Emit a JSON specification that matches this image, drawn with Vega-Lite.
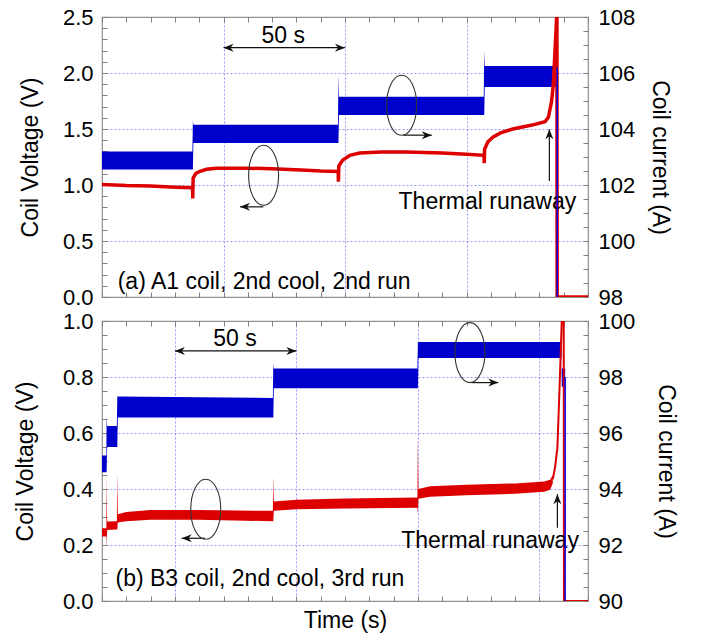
{
  "$schema": "https://vega.github.io/schema/vega-lite/v6.json",
  "padding": {"left": 13, "top": 5, "right": 5, "bottom": 5},
  "background": "white",
  "spacing": 24,
  "bounds": "flush",
  "datasets": {
    "topI": [
      {"t": 0, "lo": 102.55, "hi": 103.2}, {"t": 37.2, "lo": 102.55, "hi": 103.2},
      {"t": 37.4, "lo": 102.55, "hi": 104.3}, {"t": 37.6, "lo": 103.5, "hi": 104.15},
      {"t": 97.1, "lo": 103.5, "hi": 104.15}, {"t": 97.3, "lo": 103.5, "hi": 105.95},
      {"t": 97.5, "lo": 104.5, "hi": 105.15}, {"t": 157.1, "lo": 104.5, "hi": 105.15},
      {"t": 157.3, "lo": 104.5, "hi": 106.8}, {"t": 157.5, "lo": 105.5, "hi": 106.25},
      {"t": 187.2, "lo": 105.5, "hi": 106.25}
    ],
    "topDrop": [{"t": 187.35, "lo": 98, "hi": 106.2}],
    "topV": [
      {"t": 0, "v": 1.005}, {"t": 10, "v": 0.995}, {"t": 20, "v": 0.99}, {"t": 30, "v": 0.98},
      {"t": 37.3, "v": 0.975}, {"t": 37.35, "v": 0.88}, {"t": 37.5, "v": 1.06}, {"t": 38.5, "v": 1.1},
      {"t": 40, "v": 1.12}, {"t": 43, "v": 1.14}, {"t": 47, "v": 1.15}, {"t": 60, "v": 1.15},
      {"t": 70, "v": 1.145}, {"t": 82, "v": 1.135}, {"t": 90, "v": 1.125}, {"t": 97.2, "v": 1.12},
      {"t": 97.3, "v": 1.03}, {"t": 97.45, "v": 1.17}, {"t": 99, "v": 1.22}, {"t": 102, "v": 1.265},
      {"t": 106, "v": 1.285}, {"t": 115, "v": 1.295}, {"t": 125, "v": 1.295}, {"t": 140, "v": 1.285},
      {"t": 150, "v": 1.275}, {"t": 157.2, "v": 1.265}, {"t": 157.3, "v": 1.195}, {"t": 157.45, "v": 1.32},
      {"t": 158.8, "v": 1.385}, {"t": 161, "v": 1.43}, {"t": 164, "v": 1.465}, {"t": 169, "v": 1.5},
      {"t": 177, "v": 1.535}, {"t": 182.3, "v": 1.565}, {"t": 183.7, "v": 1.605}, {"t": 185, "v": 1.745},
      {"t": 185.7, "v": 1.89}, {"t": 186.4, "v": 2.19}, {"t": 187.1, "v": 2.5}, {"t": 187.2, "v": 2.8},
      {"t": 187.3, "v": 0}, {"t": 200, "v": 0}
    ],
    "topRules": [
      {"t1": 50, "t2": 100, "v1": 2.226, "v2": 2.226},
      {"t1": 56.8, "t2": 66.4, "v1": 0.805, "v2": 0.805},
      {"t1": 124, "t2": 135.7, "v1": 1.445, "v2": 1.445},
      {"t1": 184.1, "t2": 184.1, "v1": 1.036, "v2": 1.497}
    ],
    "topHeads": [
      {"t": 50, "v": 2.226, "dir": "left"}, {"t": 100, "v": 2.226, "dir": "right"},
      {"t": 56.8, "v": 0.805, "dir": "left"}, {"t": 135.7, "v": 1.445, "dir": "right"},
      {"t": 184.1, "v": 1.497, "dir": "up"}
    ],
    "topEll": [{"t": 66.5, "v": 1.087}, {"t": 123.3, "v": 1.7125}],
    "topText": [
      {"t": 74.6, "v": 2.27, "label": "50 s"},
      {"t": 158.6, "v": 0.783, "label": "Thermal runaway"},
      {"t": 66.7, "v": 0.075, "label": "(a) A1 coil, 2nd cool, 2nd run"}
    ],
    "botI": [
      {"t": 0, "lo": 94.6, "hi": 95.2}, {"t": 1.8, "lo": 94.6, "hi": 95.2},
      {"t": 1.9, "lo": 94.6, "hi": 96.6}, {"t": 2.1, "lo": 95.5, "hi": 96.25},
      {"t": 6.1, "lo": 95.5, "hi": 96.25}, {"t": 6.3, "lo": 95.5, "hi": 97.3},
      {"t": 6.5, "lo": 96.55, "hi": 97.3}, {"t": 70.3, "lo": 96.55, "hi": 97.25},
      {"t": 70.5, "lo": 96.55, "hi": 98.5}, {"t": 70.7, "lo": 97.6, "hi": 98.3},
      {"t": 129.8, "lo": 97.6, "hi": 98.3}, {"t": 130, "lo": 97.6, "hi": 99.25},
      {"t": 130.2, "lo": 98.68, "hi": 99.25}, {"t": 189.1, "lo": 98.68, "hi": 99.25},
      {"t": 189.2, "lo": 97.65, "hi": 98.3}, {"t": 190.6, "lo": 97.65, "hi": 98.3}
    ],
    "botDrop": [{"t": 190.6, "lo": 90, "hi": 98}],
    "botV": [
      {"t": 0, "lo": 0.23, "hi": 0.26}, {"t": 1.8, "lo": 0.23, "hi": 0.26},
      {"t": 1.9, "lo": 0.19, "hi": 0.45}, {"t": 2.1, "lo": 0.254, "hi": 0.284},
      {"t": 6.1, "lo": 0.255, "hi": 0.285}, {"t": 6.3, "lo": 0.255, "hi": 0.457},
      {"t": 6.5, "lo": 0.28, "hi": 0.31}, {"t": 10, "lo": 0.285, "hi": 0.318},
      {"t": 20, "lo": 0.29, "hi": 0.325}, {"t": 40, "lo": 0.29, "hi": 0.325},
      {"t": 70.3, "lo": 0.285, "hi": 0.322}, {"t": 70.5, "lo": 0.285, "hi": 0.445},
      {"t": 70.7, "lo": 0.322, "hi": 0.355}, {"t": 80, "lo": 0.328, "hi": 0.362},
      {"t": 100, "lo": 0.33, "hi": 0.366}, {"t": 129.8, "lo": 0.333, "hi": 0.37},
      {"t": 130, "lo": 0.308, "hi": 0.588}, {"t": 130.2, "lo": 0.365, "hi": 0.4},
      {"t": 135, "lo": 0.372, "hi": 0.41}, {"t": 150, "lo": 0.378, "hi": 0.415},
      {"t": 170, "lo": 0.383, "hi": 0.42}, {"t": 182, "lo": 0.39, "hi": 0.427},
      {"t": 184.4, "lo": 0.397, "hi": 0.433}, {"t": 185.5, "lo": 0.42, "hi": 0.45}
    ],
    "botVline": [
      {"t": 185.5, "v": 0.435}, {"t": 186.4, "v": 0.475}, {"t": 187.4, "v": 0.547},
      {"t": 188.1, "v": 0.714}, {"t": 188.8, "v": 0.893}, {"t": 189.2, "v": 1.0},
      {"t": 189.4, "v": 1.1}, {"t": 190.0, "v": 1.1}, {"t": 190.1, "v": 0}, {"t": 200, "v": 0}
    ],
    "botRules": [
      {"t1": 30, "t2": 80, "v1": 0.893, "v2": 0.893},
      {"t1": 32.8, "t2": 42.4, "v1": 0.224, "v2": 0.224},
      {"t1": 152.1, "t2": 163.1, "v1": 0.78, "v2": 0.78},
      {"t1": 187.4, "t2": 187.4, "v1": 0.262, "v2": 0.381}
    ],
    "botHeads": [
      {"t": 30, "v": 0.893, "dir": "left"}, {"t": 80, "v": 0.893, "dir": "right"},
      {"t": 32.8, "v": 0.224, "dir": "left"}, {"t": 163.1, "v": 0.78, "dir": "right"},
      {"t": 187.4, "v": 0.381, "dir": "up"}
    ],
    "botEll": [{"t": 42.7, "v": 0.3275}, {"t": 151.4, "v": 0.887}],
    "botText": [
      {"t": 54.7, "v": 0.911, "label": "50 s"},
      {"t": 159.7, "v": 0.19, "label": "Thermal runaway"},
      {"t": 65.0, "v": 0.054, "label": "(b) B3 coil, 2nd cool, 3rd run"}
    ]
  },
  "vconcat": [
    {
      "width": 486, "height": 280,
      "layer": [
        {
          "data": {"name": "topI"},
          "mark": {"type": "area", "color": "#0000cc", "clip": true},
          "encoding": {
            "x": {"field": "t", "type": "quantitative", "scale": {"domain": [0, 200], "nice": false},
              "axis": {"orient": "top", "values": [0,10,20,30,40,50,60,70,80,90,100,110,120,130,140,150,160,170,180,190,200], "labels": false, "title": null, "grid": false, "domain": false, "offset": -5, "tickSize": 5}},
            "y": {"field": "lo", "type": "quantitative", "scale": {"domain": [98, 108], "nice": false, "zero": false},
              "axis": {"orient": "right", "values": [98,98.5,99,99.5,100,100.5,101,101.5,102,102.5,103,103.5,104,104.5,105,105.5,106,106.5,107,107.5,108],
                "labelExpr": "abs(datum.value/2-round(datum.value/2))<0.001 ? format(datum.value,'d') : ''",
                "title": "Coil current (A)", "grid": false, "domain": false, "offset": -5, "tickSize": 5, "labelPadding": 10, "titlePadding": 13}},
            "y2": {"field": "hi"}
          }
        },
        {
          "data": {"name": "topV"},
          "mark": {"type": "line", "color": "#dd0000", "strokeWidth": 3.5, "clip": true},
          "encoding": {
            "x": {"field": "t", "type": "quantitative", "scale": {"domain": [0, 200], "nice": false},
              "axis": {"orient": "bottom", "values": [0,10,20,30,40,50,60,70,80,90,100,110,120,130,140,150,160,170,180,190,200], "labels": false, "title": null, "grid": true, "domain": false, "offset": -5, "tickSize": 5,
                "gridOpacity": {"condition": {"test": "datum.value % 50 == 0 && datum.value > 0 && datum.value < 200", "value": 1}, "value": 0}}},
            "y": {"field": "v", "type": "quantitative", "scale": {"domain": [0, 2.5], "nice": false},
              "axis": {"orient": "left", "values": [0,0.1,0.2,0.3,0.4,0.5,0.6,0.7,0.8,0.9,1,1.1,1.2,1.3,1.4,1.5,1.6,1.7,1.8,1.9,2,2.1,2.2,2.3,2.4,2.5],
                "labelExpr": "abs(datum.value*2-round(datum.value*2))<0.001 ? format(datum.value,'.1f') : ''",
                "title": "Coil Voltage (V)", "grid": true, "domain": false, "offset": -5, "tickSize": 5,
                "gridOpacity": {"condition": {"test": "abs(datum.value*2-round(datum.value*2))<0.001 && datum.value > 0.01 && datum.value < 2.49", "value": 1}, "value": 0},
                "labelPadding": 9, "titlePadding": 20}}
          }
        },
        {
          "data": {"name": "topRules"},
          "mark": {"type": "rule", "color": "#111111", "strokeWidth": 1.2},
          "encoding": {
            "x": {"field": "t1", "type": "quantitative", "scale": {"domain": [0, 200], "nice": false}, "axis": null},
            "x2": {"field": "t2"},
            "y": {"field": "v1", "type": "quantitative", "scale": {"domain": [0, 2.5], "nice": false}, "axis": null},
            "y2": {"field": "v2"}
          }
        },
        {
          "data": {"name": "topHeads"},
          "mark": {"type": "point", "filled": true, "size": 400, "color": "#111111", "opacity": 1},
          "encoding": {
            "x": {"field": "t", "type": "quantitative", "scale": {"domain": [0, 200], "nice": false}, "axis": null},
            "y": {"field": "v", "type": "quantitative", "scale": {"domain": [0, 2.5], "nice": false}, "axis": null},
            "shape": {"field": "dir", "type": "nominal", "legend": null,
              "scale": {"domain": ["left", "right", "up"], "range": ["M 0 0 L 1 -0.4 L 0.7 0 L 1 0.4 Z", "M 0 0 L -1 -0.4 L -0.7 0 L -1 0.4 Z", "M 0 0 L -0.4 1 L 0 0.7 L 0.4 1 Z"]}}
          }
        },
        {
          "data": {"name": "topEll"},
          "mark": {"type": "point", "filled": false, "size": 3600, "color": "#333333", "strokeWidth": 1.1, "opacity": 1,
            "shape": "M -0.5 0 A 0.5 1 0 1 1 0.5 0 A 0.5 1 0 1 1 -0.5 0 Z"},
          "encoding": {
            "x": {"field": "t", "type": "quantitative", "scale": {"domain": [0, 200], "nice": false}, "axis": null},
            "y": {"field": "v", "type": "quantitative", "scale": {"domain": [0, 2.5], "nice": false}, "axis": null}
          }
        },
        {
          "data": {"name": "topText"},
          "mark": {"type": "text", "fontSize": 23, "font": "Liberation Sans", "align": "center", "baseline": "alphabetic", "color": "#000000"},
          "encoding": {
            "x": {"field": "t", "type": "quantitative", "scale": {"domain": [0, 200], "nice": false}, "axis": null},
            "y": {"field": "v", "type": "quantitative", "scale": {"domain": [0, 2.5], "nice": false}, "axis": null},
            "text": {"field": "label"}
          }
        },
        {
          "data": {"name": "topDrop"},
          "mark": {"type": "rule", "color": "#0000ee", "strokeWidth": 1.5},
          "encoding": {
            "x": {"field": "t", "type": "quantitative", "scale": {"domain": [0, 200], "nice": false}, "axis": null},
            "y": {"field": "lo", "type": "quantitative", "scale": {"domain": [98, 108], "nice": false, "zero": false}, "axis": null},
            "y2": {"field": "hi"}
          }
        }
      ],
      "resolve": {"scale": {"y": "independent"}, "axis": {"x": "independent", "y": "independent"}}
    },
    {
      "width": 486, "height": 280,
      "layer": [
        {
          "data": {"name": "botI"},
          "mark": {"type": "area", "color": "#0000cc", "clip": true},
          "encoding": {
            "x": {"field": "t", "type": "quantitative", "scale": {"domain": [0, 200], "nice": false},
              "axis": {"orient": "top", "values": [0,10,20,30,40,50,60,70,80,90,100,110,120,130,140,150,160,170,180,190,200], "labels": false, "title": null, "grid": false, "domain": false, "offset": -5, "tickSize": 5}},
            "y": {"field": "lo", "type": "quantitative", "scale": {"domain": [90, 100], "nice": false, "zero": false},
              "axis": {"orient": "right", "values": [90,90.5,91,91.5,92,92.5,93,93.5,94,94.5,95,95.5,96,96.5,97,97.5,98,98.5,99,99.5,100],
                "labelExpr": "abs(datum.value/2-round(datum.value/2))<0.001 ? format(datum.value,'d') : ''",
                "title": "Coil current (A)", "grid": false, "domain": false, "offset": -5, "tickSize": 5, "labelPadding": 10, "titlePadding": 19}},
            "y2": {"field": "hi"}
          }
        },
        {
          "data": {"name": "botV"},
          "mark": {"type": "area", "color": "#dd0000", "clip": true},
          "encoding": {
            "x": {"field": "t", "type": "quantitative", "scale": {"domain": [0, 200], "nice": false},
              "axis": {"orient": "bottom", "values": [0,10,20,30,40,50,60,70,80,90,100,110,120,130,140,150,160,170,180,190,200], "labels": false, "title": "Time (s)", "titlePadding": 8, "grid": true, "domain": false, "offset": -5, "tickSize": 5,
                "gridOpacity": {"condition": {"test": "(datum.value - 30) % 50 == 0 && datum.value > 0 && datum.value < 200", "value": 1}, "value": 0}}},
            "y": {"field": "lo", "type": "quantitative", "scale": {"domain": [0, 1], "nice": false},
              "axis": {"orient": "left", "values": [0,0.05,0.1,0.15,0.2,0.25,0.3,0.35,0.4,0.45,0.5,0.55,0.6,0.65,0.7,0.75,0.8,0.85,0.9,0.95,1],
                "labelExpr": "abs(datum.value*5-round(datum.value*5))<0.001 ? format(datum.value,'.1f') : ''",
                "title": "Coil Voltage (V)", "grid": true, "domain": false, "offset": -5, "tickSize": 5,
                "gridOpacity": {"condition": {"test": "abs(datum.value*5-round(datum.value*5))<0.001 && datum.value > 0.01 && datum.value < 0.99", "value": 1}, "value": 0},
                "labelPadding": 9, "titlePadding": 25}},
            "y2": {"field": "hi"}
          }
        },
        {
          "data": {"name": "botVline"},
          "mark": {"type": "line", "color": "#dd0000", "strokeWidth": 2, "clip": true},
          "encoding": {
            "x": {"field": "t", "type": "quantitative", "scale": {"domain": [0, 200], "nice": false}, "axis": null},
            "y": {"field": "v", "type": "quantitative", "scale": {"domain": [0, 1], "nice": false}, "axis": null}
          }
        },
        {
          "data": {"name": "botRules"},
          "mark": {"type": "rule", "color": "#111111", "strokeWidth": 1.2},
          "encoding": {
            "x": {"field": "t1", "type": "quantitative", "scale": {"domain": [0, 200], "nice": false}, "axis": null},
            "x2": {"field": "t2"},
            "y": {"field": "v1", "type": "quantitative", "scale": {"domain": [0, 1], "nice": false}, "axis": null},
            "y2": {"field": "v2"}
          }
        },
        {
          "data": {"name": "botHeads"},
          "mark": {"type": "point", "filled": true, "size": 400, "color": "#111111", "opacity": 1},
          "encoding": {
            "x": {"field": "t", "type": "quantitative", "scale": {"domain": [0, 200], "nice": false}, "axis": null},
            "y": {"field": "v", "type": "quantitative", "scale": {"domain": [0, 1], "nice": false}, "axis": null},
            "shape": {"field": "dir", "type": "nominal", "legend": null,
              "scale": {"domain": ["left", "right", "up"], "range": ["M 0 0 L 1 -0.4 L 0.7 0 L 1 0.4 Z", "M 0 0 L -1 -0.4 L -0.7 0 L -1 0.4 Z", "M 0 0 L -0.4 1 L 0 0.7 L 0.4 1 Z"]}}
          }
        },
        {
          "data": {"name": "botEll"},
          "mark": {"type": "point", "filled": false, "size": 3600, "color": "#333333", "strokeWidth": 1.1, "opacity": 1,
            "shape": "M -0.5 0 A 0.5 1 0 1 1 0.5 0 A 0.5 1 0 1 1 -0.5 0 Z"},
          "encoding": {
            "x": {"field": "t", "type": "quantitative", "scale": {"domain": [0, 200], "nice": false}, "axis": null},
            "y": {"field": "v", "type": "quantitative", "scale": {"domain": [0, 1], "nice": false}, "axis": null}
          }
        },
        {
          "data": {"name": "botText"},
          "mark": {"type": "text", "fontSize": 23, "font": "Liberation Sans", "align": "center", "baseline": "alphabetic", "color": "#000000"},
          "encoding": {
            "x": {"field": "t", "type": "quantitative", "scale": {"domain": [0, 200], "nice": false}, "axis": null},
            "y": {"field": "v", "type": "quantitative", "scale": {"domain": [0, 1], "nice": false}, "axis": null},
            "text": {"field": "label"}
          }
        },
        {
          "data": {"name": "botDrop"},
          "mark": {"type": "rule", "color": "#0000ee", "strokeWidth": 1.5},
          "encoding": {
            "x": {"field": "t", "type": "quantitative", "scale": {"domain": [0, 200], "nice": false}, "axis": null},
            "y": {"field": "lo", "type": "quantitative", "scale": {"domain": [90, 100], "nice": false, "zero": false}, "axis": null},
            "y2": {"field": "hi"}
          }
        }
      ],
      "resolve": {"scale": {"y": "independent"}, "axis": {"x": "independent", "y": "independent"}}
    }
  ],
  "config": {
    "font": "Liberation Sans",
    "view": {"stroke": "#909090", "strokeWidth": 1.2},
    "axis": {
      "labelFont": "Liberation Sans", "labelFontSize": 22, "labelColor": "#000000",
      "titleFont": "Liberation Sans", "titleFontSize": 23, "titleFontWeight": "normal", "titleColor": "#000000",
      "tickColor": "#808080", "tickWidth": 1,
      "gridColor": "#6a6aff", "gridDash": [2, 2], "gridWidth": 0.7,
      "labelOverlap": false, "labelFlush": false, "labelBound": false
    }
  }
}
